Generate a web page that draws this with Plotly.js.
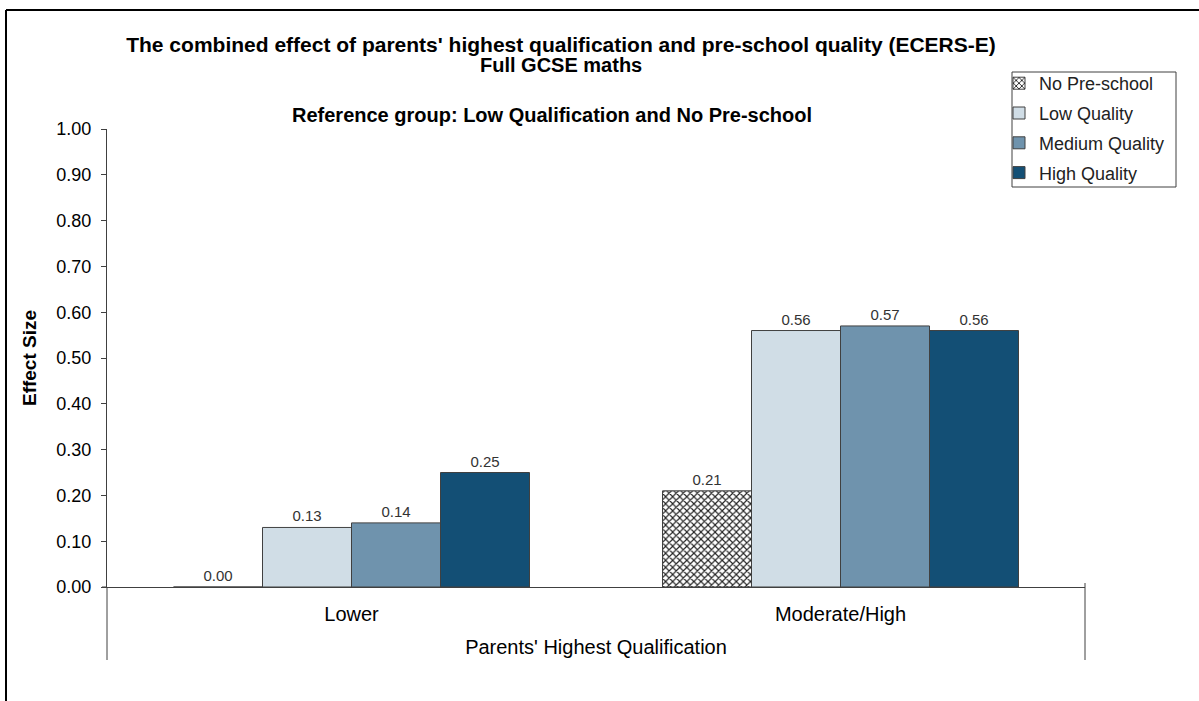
<!DOCTYPE html>
<html>
<head>
<meta charset="utf-8">
<script src="https://cdn.plot.ly/plotly-3.0.1.min.js"></script>
<style>html,body{margin:0;padding:0;background:#fff;}#chart{width:1199px;height:701px;}</style>
</head>
<body>
<div id="chart"></div>
<script>
const categories = ["Lower", "Moderate/High"];
const seriesNames = ["No Pre-school", "Low Quality", "Medium Quality", "High Quality"];
const noPreschool = [0.00, 0.21];
const lowQuality = [0.13, 0.56];
const mediumQuality = [0.14, 0.57];
const highQuality = [0.25, 0.56];
const yTickValues = [0, 0.1, 0.2, 0.3, 0.4, 0.5, 0.6, 0.7, 0.8, 0.9, 1.0];

const seriesValues = [noPreschool, lowQuality, mediumQuality, highQuality];
const fills = ["#ffffff", "#d0dde6", "#6f93ad", "#134f75"];

const font = "Arial, Liberation Sans, sans-serif";

const traces = seriesValues.map((vals, i) => {
  const marker = {color: fills[i], line: {color: "#404040", width: 1}};
  if (i === 0) {
    marker.pattern = {shape: "x", size: 5, solidity: 0.4, fgcolor: "#222222", bgcolor: "#ffffff", fillmode: "replace"};
  }
  return {
    type: "bar",
    name: seriesNames[i],
    x: categories,
    y: vals,
    marker: marker,
    text: vals.map(v => v.toFixed(2)),
    textposition: "outside",
    textfont: {family: font, size: 15, color: "#333333"},
    cliponaxis: false,
    legendgroup: "g" + i,
    hoverinfo: "skip"
  };
});

// pixel helpers for decorations (plot area: x 107..1085, y 129..587)
const px = x => (x - 107) / 978;
const py = y => (587 - y) / 458;

const layout = {
  width: 1199, height: 701,
  margin: {l: 107, r: 114, t: 129, b: 114},
  paper_bgcolor: "#ffffff", plot_bgcolor: "#ffffff",
  font: {family: font, color: "#000000"},
  barmode: "group", bargap: 0.272, bargroupgap: 0,
  showlegend: true,
  title: {
    text: "The combined effect of parents' highest qualification and pre-school quality (ECERS-E)",
    font: {family: font, size: 21, color: "#000000", weight: "bold"},
    xref: "container", yref: "container",
    x: 561 / 1199, xanchor: "center", y: 1 - 45 / 701, yanchor: "middle"
  },
  annotations: [
    {
      text: "Full GCSE maths",
      xref: "paper", yref: "paper", x: px(561), y: py(65),
      xanchor: "center", yanchor: "middle", showarrow: false,
      font: {family: font, size: 20, color: "#000000", weight: "bold"}
    },
    {
      text: "Reference group: Low Qualification and No Pre-school",
      xref: "paper", yref: "paper", x: px(552), y: py(115),
      xanchor: "center", yanchor: "middle", showarrow: false,
      font: {family: font, size: 20, color: "#000000", weight: "bold"}
    }
  ],
  legend: {
    x: px(999), y: py(65), xanchor: "left", yanchor: "top",
    bgcolor: "rgba(0,0,0,0)", borderwidth: 0,
    font: {family: font, size: 18, color: "#222222"},
    tracegroupgap: 3.4, itemwidth: 30, traceorder: "grouped"
  },
  xaxis: {
    type: "category",
    showline: true, linecolor: "#404040", linewidth: 1,
    ticks: "", showgrid: false, zeroline: false,
    tickfont: {family: font, size: 20, color: "#000000"},
    ticklabelstandoff: 9,
    title: {text: "Parents' Highest Qualification", font: {family: font, size: 20, color: "#000000"}, standoff: 15},
    fixedrange: true
  },
  yaxis: {
    range: [0, 1], tickvals: yTickValues, tickformat: ".2f",
    showline: true, linecolor: "#404040", linewidth: 1,
    ticks: "outside", ticklen: 5, tickcolor: "#404040",
    showgrid: false, zeroline: false,
    tickfont: {family: font, size: 18, color: "#000000"},
    ticklabelstandoff: 6,
    title: {text: "Effect Size", font: {family: font, size: 19, color: "#000000", weight: "bold"}, standoff: 14},
    fixedrange: true
  },
  shapes: [
    {type: "line", xref: "paper", yref: "paper", x0: 0, x1: 0, y0: 0, y1: py(660), line: {color: "#404040", width: 1}},
    {type: "line", xref: "paper", yref: "paper", x0: 1, x1: 1, y0: py(583), y1: py(660), line: {color: "#404040", width: 1}},
    {type: "line", xref: "paper", yref: "paper", x0: px(102), x1: 0, y0: 0, y1: 0, line: {color: "#404040", width: 1}},
    {type: "rect", xref: "paper", yref: "paper", x0: px(1012), x1: px(1176), y0: py(72), y1: py(187), line: {color: "#404040", width: 1}, fillcolor: "rgba(0,0,0,0)"},
    {type: "line", xref: "paper", yref: "paper", x0: px(6), x1: px(6), y0: py(10), y1: py(720), line: {color: "#000000", width: 2}},
    {type: "line", xref: "paper", yref: "paper", x0: px(6), x1: px(1220), y0: py(10), y1: py(10), line: {color: "#000000", width: 2}}
  ]
};

Plotly.newPlot("chart", traces, layout, {displayModeBar: false, staticPlot: true});
</script>
</body>
</html>
